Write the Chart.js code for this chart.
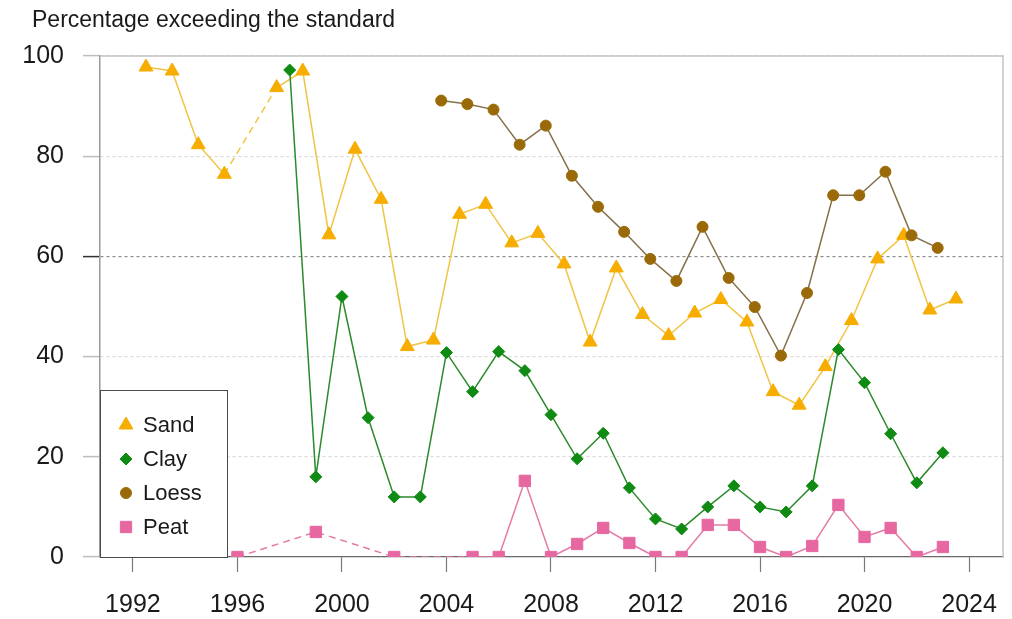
<!DOCTYPE html>
<html>
<head>
<meta charset="utf-8">
<title>Percentage exceeding the standard</title>
<script src="https://cdn.jsdelivr.net/npm/chart.js@4/dist/chart.umd.min.js"></script>
<style>
  html, body { margin: 0; padding: 0; background: #ffffff; }
  #wrap { width: 1012px; height: 619px; position: relative; }
</style>
</head>
<body>
<div id="wrap"><canvas id="chart" width="1012" height="619"></canvas></div>
<script>
// Measurement years and shares (%) exceeding the standard, per soil type
const sandYears  = [1992, 1993, 1994, 1995, 1997, 1998, 1999, 2000, 2001, 2002, 2003, 2004, 2005, 2006, 2007, 2008,
                    2009, 2010, 2011, 2012, 2013, 2014, 2015, 2016, 2017, 2018, 2019, 2020, 2021, 2022, 2023];
const sandValues = [97.8, 97, 82.3, 76.4, 93.7, 97, 64.3, 81.4, 71.4, 42, 43.3, 68.4, 70.4, 62.7, 64.6, 58.5,
                    42.9, 57.7, 48.4, 44.2, 48.7, 51.4, 46.9, 33, 30.3, 38, 47.2, 59.5, 64.2, 49.3, 51.5];

const clayYears  = [1998, 1999, 2000, 2001, 2002, 2003, 2004, 2005, 2006, 2007, 2008, 2009, 2010,
                    2011, 2012, 2013, 2014, 2015, 2016, 2017, 2018, 2019, 2020, 2021, 2022, 2023];
const clayValues = [97.2, 16, 52, 27.8, 12, 12, 40.8, 33, 41, 37.2, 28.4, 19.6, 24.7,
                    13.8, 7.6, 5.6, 10, 14.2, 10, 9, 14.2, 41.4, 34.8, 24.6, 14.8, 20.8];

const loessYears  = [2004, 2005, 2006, 2007, 2008, 2009, 2010, 2011, 2012, 2013,
                     2014, 2015, 2016, 2017, 2018, 2019, 2020, 2021, 2022, 2023];
const loessValues = [91.1, 90.4, 89.3, 82.3, 86.1, 76.1, 69.9, 64.9, 59.5, 55.1,
                     65.9, 55.7, 49.9, 40.2, 52.7, 72.2, 72.2, 76.9, 64.2, 61.7];

const peatYears  = [1996, 1999, 2002, 2005, 2006, 2007, 2008, 2009, 2010, 2011, 2012,
                    2013, 2014, 2015, 2016, 2017, 2018, 2019, 2020, 2021, 2022, 2023];
const peatValues = [0, 5, 0, 0, 0, 15.2, 0, 2.6, 5.8, 2.8, 0,
                    0, 6.4, 6.4, 2, 0, 2.2, 10.4, 4, 5.8, 0, 2];

const xTickYears  = [1992, 1996, 2000, 2004, 2008, 2012, 2016, 2020, 2024];
const yTickValues = [0, 20, 40, 60, 80, 100];

const titleText = 'Percentage exceeding the standard';
const FONT = "'Liberation Sans', Arial, Helvetica, sans-serif";

// Build {x, y} points; series are nudged sideways a little so markers don't stack
function points(years, values, shift) {
  return years.map((yr, i) => ({ x: yr + shift, y: values[i] }));
}

// Lines that bridge a missing year are drawn dashed
const gapDash = ctx => (ctx.p1.parsed.x - ctx.p0.parsed.x > 1.5 ? [7, 5] : undefined);

function series(label, years, values, shift, style) {
  return {
    label,
    data: points(years, values, shift),
    borderColor: style.line,
    borderWidth: 1.5,
    backgroundColor: style.mark,
    pointBackgroundColor: style.mark,
    pointBorderColor: style.mark,
    pointBorderWidth: 1,
    pointStyle: style.shape,
    pointRadius: style.radius,
    pointHoverRadius: style.radius,
    tension: 0,
    order: style.order,
    segment: { borderDash: gapDash }
  };
}

const datasets = [
  series('Sand',  sandYears,  sandValues,  0.5,  { line: '#f0c444', mark: '#f6ad00', shape: 'triangle', radius: 8,   order: 4 }),
  series('Clay',  clayYears,  clayValues,  0,    { line: '#2b8a2b', mark: '#0f8a12', shape: 'rectRot',  radius: 6,   order: 3 }),
  series('Loess', loessYears, loessValues, -0.2, { line: '#86704a', mark: '#9a6a08', shape: 'circle',   radius: 5.5, order: 2 }),
  series('Peat',  peatYears,  peatValues,  0,    { line: '#e47aa6', mark: '#e767a0', shape: 'rect',     radius: 8,   order: 1 })
];

// Heading above the plot
const titlePlugin = {
  id: 'plotTitle',
  afterDraw(chart) {
    const c = chart.ctx;
    c.save();
    c.fillStyle = '#1a1a1a';
    c.font = '23px ' + FONT;
    c.textAlign = 'left';
    c.textBaseline = 'alphabetic';
    c.fillText(titleText, 32, 27);
    c.restore();
  }
};

// Light frame on the top and right of the plot area
const framePlugin = {
  id: 'frame',
  afterDatasetsDraw(chart) {
    const { left, right, top, bottom } = chart.chartArea;
    const c = chart.ctx;
    c.save();
    c.strokeStyle = '#c4c4c4';
    c.lineWidth = 1.5;
    c.beginPath();
    c.moveTo(left, top);
    c.lineTo(right, top);
    c.lineTo(right, bottom);
    c.stroke();
    c.restore();
  }
};

// Boxed legend in the lower-left corner of the plot
const legendPlugin = {
  id: 'boxLegend',
  afterDatasetsDraw(chart) {
    const c = chart.ctx;
    const area = chart.chartArea;
    const boxW = 127, boxH = 167;
    const bx = area.left, by = area.bottom - boxH;
    c.save();
    c.fillStyle = '#ffffff';
    c.fillRect(bx, by, boxW, boxH);
    c.strokeStyle = '#4a4a4a';
    c.lineWidth = 1;
    c.strokeRect(bx + 0.5, by + 0.5, boxW, boxH);
    c.font = '22px ' + FONT;
    c.textBaseline = 'middle';
    c.textAlign = 'left';
    chart.data.datasets.forEach((ds, i) => {
      const y = by + 35 + i * 34;
      c.fillStyle = ds.pointBackgroundColor;
      c.strokeStyle = ds.pointBorderColor;
      c.lineWidth = 1;
      Chart.helpers.drawPoint(c, {
        pointStyle: ds.pointStyle,
        radius: ds.pointRadius,
        rotation: 0,
        borderWidth: 1
      }, bx + 26, y);
      c.fillStyle = '#1a1a1a';
      c.fillText(ds.label, bx + 43, y + 1);
    });
    c.restore();
  }
};

new Chart(document.getElementById('chart'), {
  type: 'line',
  data: { datasets },
  plugins: [titlePlugin, framePlugin, legendPlugin],
  options: {
    responsive: false,
    devicePixelRatio: 1,
    animation: false,
    events: [],
    layout: { padding: { top: 56, right: 9, left: 0, bottom: 0 } },
    plugins: {
      legend: { display: false },
      title: { display: false },
      tooltip: { enabled: false }
    },
    scales: {
      x: {
        type: 'linear',
        min: 1990.74,
        max: 2025.3,
        afterBuildTicks: s => { s.ticks = xTickYears.map(v => ({ value: v })); },
        afterFit: s => { s.height = 62; s.paddingLeft = 0; s.paddingRight = 0; },
        ticks: {
          color: '#1a1a1a',
          font: { family: FONT, size: 25 },
          padding: 18,
          maxRotation: 0,
          autoSkip: false,
          callback: v => String(v)
        },
        grid: {
          drawOnChartArea: false,
          drawTicks: true,
          tickLength: 15,
          tickColor: '#7a7a7a',
          tickWidth: 1.2
        },
        border: { display: true, color: '#6a6a6a', width: 1.2 }
      },
      y: {
        min: 0,
        max: 100,
        afterBuildTicks: s => { s.ticks = yTickValues.map(v => ({ value: v })); },
        afterFit: s => { s.width = 100; },
        ticks: {
          color: '#1a1a1a',
          font: { family: FONT, size: 25 },
          padding: 19,
          callback: v => String(v)
        },
        grid: {
          drawOnChartArea: true,
          drawTicks: true,
          tickLength: 17,
          color: ctx => (ctx.tick && ctx.tick.value === 60 ? '#8c8c8c' : '#dcdcdc'),
          tickColor: ctx => (ctx.tick && ctx.tick.value === 60 ? '#333333' : '#bdbdbd'),
          lineWidth: 1.2,
          tickWidth: 1.5,
          tickBorderDash: []
        },
        border: { display: true, color: '#9a9a9a', width: 1.5, dash: [3, 3] }
      }
    }
  }
});
</script>
</body>
</html>
